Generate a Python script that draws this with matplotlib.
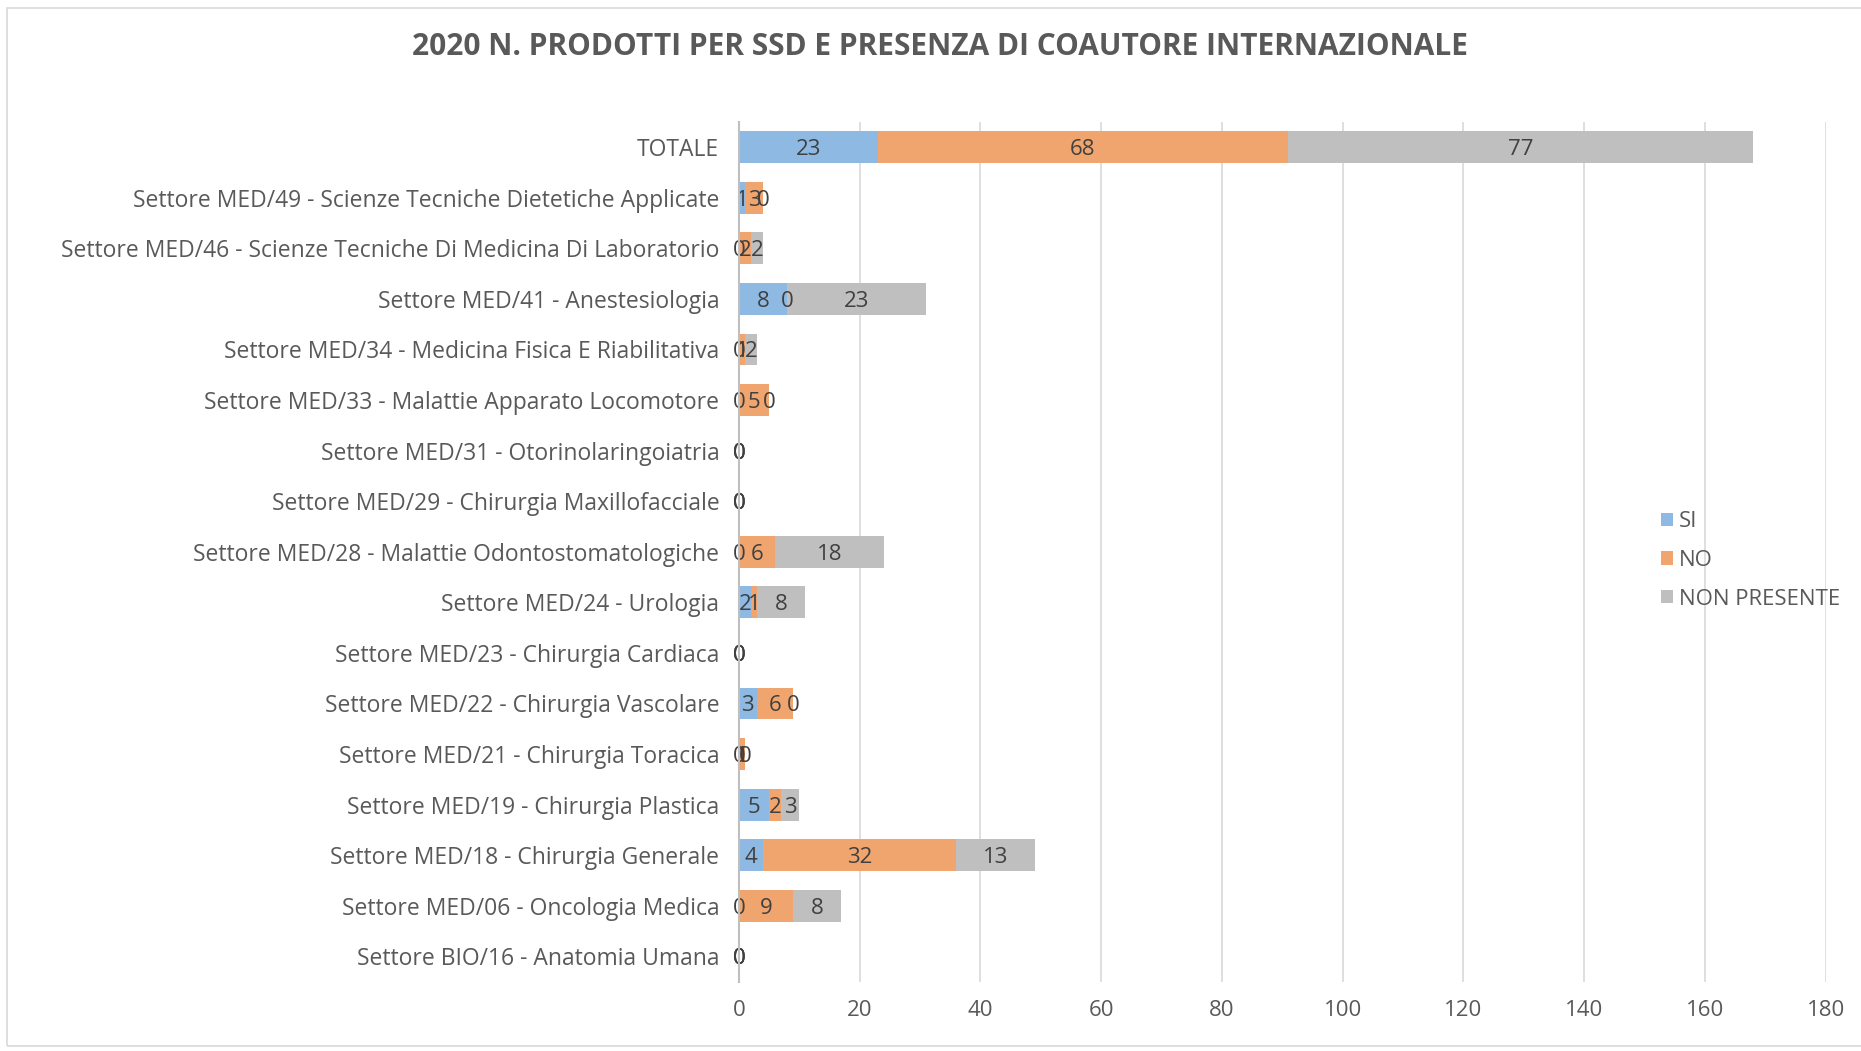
import matplotlib
matplotlib.use('Agg')
import matplotlib.pyplot as plt
import numpy as np

# Categories top-to-bottom as shown in the chart
settori = [
    "TOTALE",
    "Settore MED/49 - Scienze Tecniche Dietetiche Applicate",
    "Settore MED/46 - Scienze Tecniche Di Medicina Di Laboratorio",
    "Settore MED/41 - Anestesiologia",
    "Settore MED/34 - Medicina Fisica E Riabilitativa",
    "Settore MED/33 - Malattie Apparato Locomotore",
    "Settore MED/31 - Otorinolaringoiatria",
    "Settore MED/29 - Chirurgia Maxillofacciale",
    "Settore MED/28 - Malattie Odontostomatologiche",
    "Settore MED/24 - Urologia",
    "Settore MED/23 - Chirurgia Cardiaca",
    "Settore MED/22 - Chirurgia Vascolare",
    "Settore MED/21 - Chirurgia Toracica",
    "Settore MED/19 - Chirurgia Plastica",
    "Settore MED/18 - Chirurgia Generale",
    "Settore MED/06 - Oncologia Medica",
    "Settore BIO/16 - Anatomia Umana",
]
si = [23, 1, 0, 8, 0, 0, 0, 0, 0, 2, 0, 3, 0, 5, 4, 0, 0]
no = [68, 3, 2, 0, 1, 5, 0, 0, 6, 1, 0, 6, 1, 2, 32, 9, 0]
non_presente = [77, 0, 2, 23, 2, 0, 0, 0, 18, 8, 0, 0, 0, 3, 13, 8, 0]

series = [("SI", si, "#8db9e2"), ("NO", no, "#f1a56e"), ("NON PRESENTE", non_presente, "#bfbfbf")]
xticks = [0, 20, 40, 60, 80, 100, 120, 140, 160, 180]

plt.rcParams['font.family'] = ['Open Sans', 'DejaVu Sans']
text_col = "#595959"

fig = plt.figure(figsize=(18.61, 10.51), dpi=100)
ax = fig.add_axes([0.397, 0.066, 0.584, 0.818])

y = np.arange(len(settori))[::-1]
left = np.zeros(len(settori))
for name, vals, col in series:
    vals = np.array(vals, dtype=float)
    ax.barh(y, vals, left=left, height=0.63, color=col, label=name, zorder=2)
    for yi, l, v in zip(y, left, vals):
        ax.text(l + v / 2, yi, f"{int(v)}", ha="center", va="center_baseline",
                fontsize=16, color="#404040", zorder=3)
    left += vals

ax.set_xlim(0, 180)
ax.set_ylim(-0.5, len(settori) - 0.5)
ax.set_xticks(xticks)
ax.set_xticklabels([str(t) for t in xticks], fontsize=16, color=text_col)
ax.set_yticks(y)
ax.set_yticklabels(settori, fontsize=16.5, color=text_col)
ax.tick_params(length=0, pad=14)
ax.tick_params(axis="x", pad=13)
ax.grid(axis="x", color="#d9d9d9", linewidth=1.2, zorder=0)
ax.set_axisbelow(True)
for s in ["top", "right", "bottom"]:
    ax.spines[s].set_visible(False)
ax.spines["left"].set_color("#bfbfbf")
ax.spines["left"].set_linewidth(1.5)
ax.spines["left"].set_zorder(4)

leg = ax.legend(loc="center left", bbox_to_anchor=(0.83, 0.49), frameon=False,
                fontsize=16, handlelength=0.55, handleheight=0.55,
                handletextpad=0.25, labelspacing=0.8)
for t in leg.get_texts():
    t.set_color(text_col)

fig.text(0.505, 0.955, "2020 N. PRODOTTI PER SSD E PRESENZA DI COAUTORE INTERNAZIONALE",
         ha="center", va="center", fontsize=21.5, fontweight="bold", color=text_col)

# chart area border
fig.patches.append(plt.Rectangle((0.004, 0.005), 1.2, 0.987, transform=fig.transFigure,
                                 fill=False, edgecolor="#d9d9d9", linewidth=1.2))

plt.savefig("out.png", dpi=100)
